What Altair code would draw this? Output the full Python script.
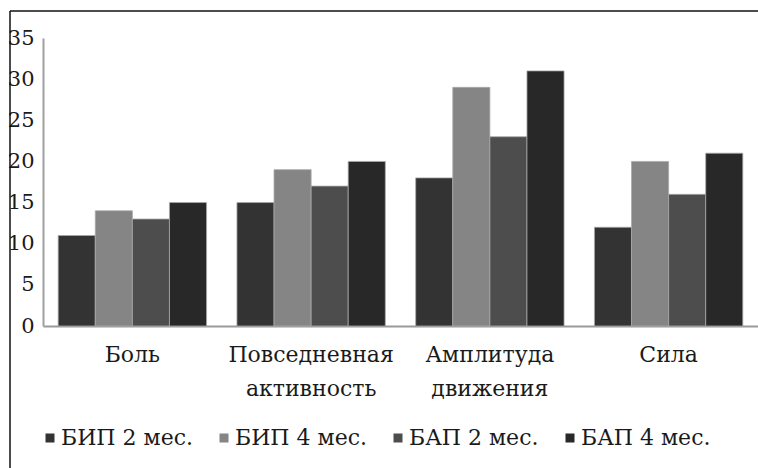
import altair as alt
import pandas as pd

# Scores by domain and treatment group
categories = ["Боль", "Повседневная активность", "Амплитуда движения", "Сила"]
series = ["БИП 2 мес.", "БИП 4 мес.", "БАП 2 мес.", "БАП 4 мес."]
bip_2 = [11, 15, 18, 12]
bip_4 = [14, 19, 29, 20]
bap_2 = [13, 17, 23, 16]
bap_4 = [15, 20, 31, 21]
colors = ["#333333", "#858585", "#4d4d4d", "#282828"]

rows = []
for name, vals in zip(series, [bip_2, bip_4, bap_2, bap_4]):
    for cat, v in zip(categories, vals):
        rows.append({"category": cat, "series": name, "value": v})
df = pd.DataFrame(rows)

FONT = "DejaVu Serif"

bars = alt.Chart(df).mark_bar(stroke="#a8a8a8", strokeWidth=0.8).encode(
    x=alt.X(
        "category:N",
        sort=categories,
        scale=alt.Scale(paddingInner=0.17, paddingOuter=0.085),
        axis=alt.Axis(
            title=None,
            labelAngle=0,
            labelFont=FONT,
            labelFontSize=22,
            labelColor="#1a1a1a",
            labelPadding=18,
            labelLineHeight=34,
            labelExpr="split(datum.label, ' ')",
            labelLimit=300,
            ticks=False,
            tickSize=0,
            domainColor="#9a9a9a",
            domainWidth=2,
        ),
    ),
    xOffset=alt.XOffset("series:N", sort=series, scale=alt.Scale(paddingInner=0, paddingOuter=0)),
    y=alt.Y(
        "value:Q",
        scale=alt.Scale(domain=[0, 35], nice=False),
        axis=alt.Axis(
            title=None,
            values=[0, 5, 10, 15, 20, 25, 30, 35],
            labelFont=FONT,
            labelFontSize=21,
            labelColor="#1a1a1a",
            labelPadding=9,
            ticks=False,
            tickSize=0,
            grid=False,
            domainColor="#a0a0a0",
            domainWidth=2,
        ),
    ),
    color=alt.Color(
        "series:N",
        sort=series,
        scale=alt.Scale(domain=series, range=colors),
        legend=alt.Legend(
            title=None,
            orient="none",
            legendX=-4,
            legendY=389,
            direction="horizontal",
            columns=4,
            columnPadding=20,
            symbolType="square",
            symbolSize=81,
            symbolStrokeWidth=0,
            labelOffset=0,
            labelFont=FONT,
            labelFontSize=22,
            labelColor="#1a1a1a",
            labelLimit=300,
            padding=0,
        ),
    ),
)

# Frame lines along the top and left edges of the figure
frame_df = pd.DataFrame({"k": [0]})
frame_top = alt.Chart(frame_df).mark_rule(color="#111111", strokeWidth=1.5).encode(
    x=alt.value(-33), x2=alt.value(760), y=alt.value(-27), y2=alt.value(-27)
)
frame_left = alt.Chart(frame_df).mark_rule(color="#111111", strokeWidth=1.5).encode(
    x=alt.value(-33), x2=alt.value(-33), y=alt.value(-27), y2=alt.value(440)
)

chart = alt.layer(bars, frame_top, frame_left).properties(
    width=715,
    height=288,
    padding={"left": 43, "top": 38, "right": 0, "bottom": 142},
    autosize=alt.AutoSizeParams(type="none"),
    background="white",
).configure_view(stroke=None)

chart.save("out.html", embed_options={"renderer": "svg", "actions": False})
